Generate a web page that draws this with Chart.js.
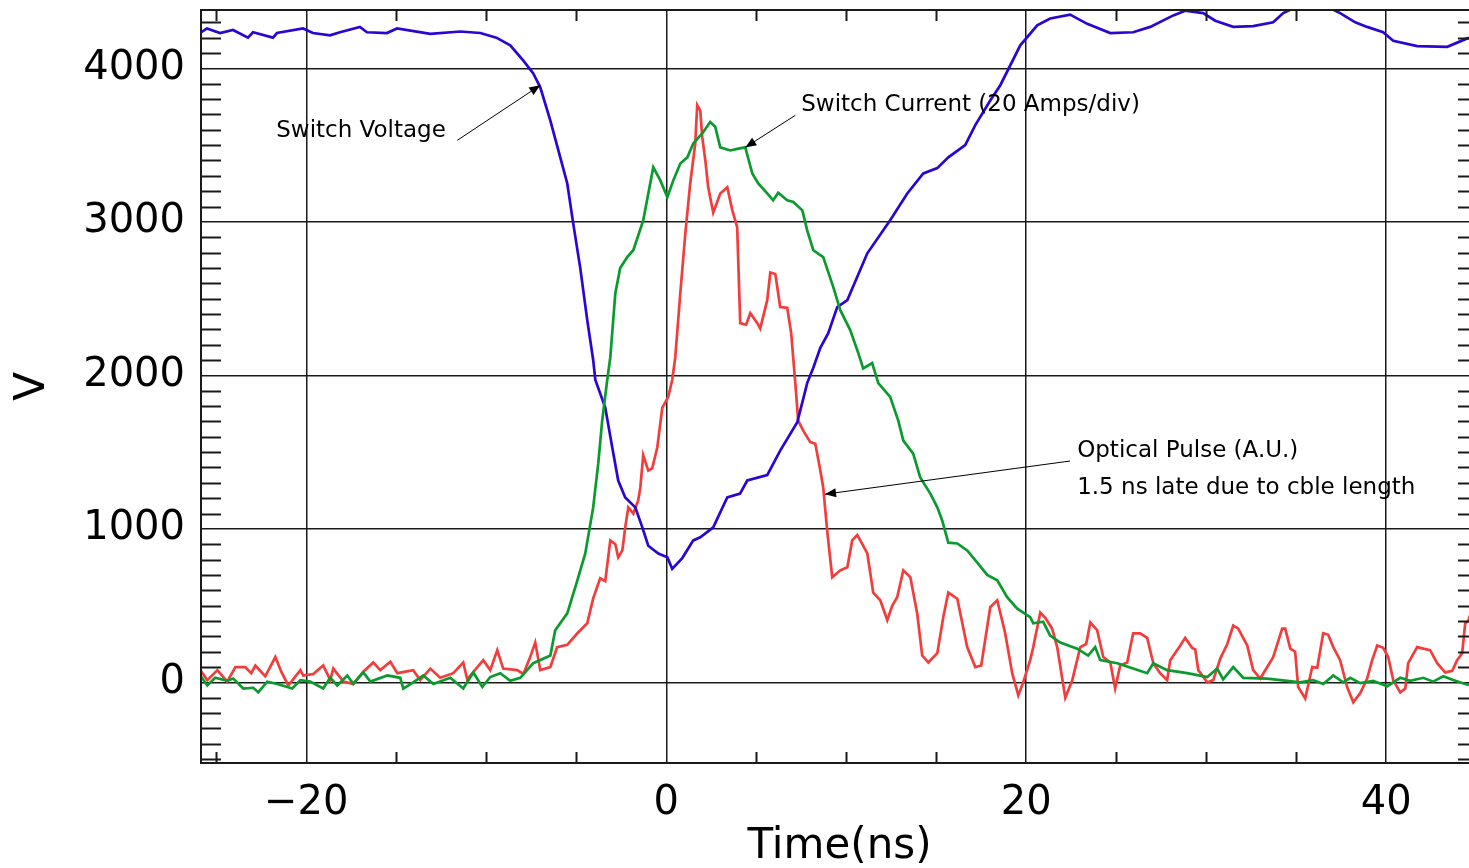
<!DOCTYPE html>
<html>
<head>
<meta charset="utf-8">
<script src="https://cdn.jsdelivr.net/npm/chart.js@4.4.0/dist/chart.umd.min.js"></script>
<style>
    html, body { margin: 0; padding: 0; overflow: hidden; background: #fff; }
    #wrap { width: 1480px; height: 868px; }
    canvas { display: block; }
</style>
</head>
<body>
<div id="wrap"><canvas id="scope" width="1480" height="868"></canvas></div>
<script>
// time axis in ns, values in V (current and optical traces are plotted on the same V scale)
const voltTime = [
    -25.85,-25.52,-24.79,-24.07,-23.24,-22.96,-21.85,-21.63,-20.18,-19.63,
    -18.68,-18.13,-17.02,-16.63,-15.52,-14.96,-13.11,
    -11.44,-10.33,-9.44,-8.67,-7.94,-7.39,-7.0,-6.44,-5.89,-5.5,
    -5.17,-4.78,-4.39,-4.06,-3.94,-3.39,-3.0,-2.67,-2.28,-1.72,
    -1.33,-1.0,-0.44,0.06,0.33,0.89,1.5,1.89,2.61,3.39,
    4.1,4.5,5.61,6.33,7.28,7.83,8.17,8.56,9.0,9.5,
    10.06,11.17,12.44,13.39,14.28,15.06,15.67,16.61,17.17,18.0,
    18.56,19.67,20.61,21.33,22.44,23.39,24.67,25.94,26.89,28.17,
    28.83,29.83,30.5,31.5,32.61,33.72,34.28,35.0,36.39,37.44,
    38.28,38.94,39.83,40.39,41.72,43.39,44.5,45.1
];
const switchVoltage = [
    4235,4260,4230,4250,4200,4235,4200,4230,4260,4230,
    4215,4235,4270,4235,4230,4260,4225,
    4240,4230,4200,4150,4050,3967,3876,3660,3420,3250,
    2990,2700,2360,2100,1970,1790,1530,1315,1205,1140,
    1010,890,840,815,740,810,925,945,1010,1205,
    1230,1315,1350,1510,1695,1950,2050,2180,2275,2445,
    2490,2795,3010,3185,3315,3350,3420,3500,3630,3790,
    3890,4150,4280,4325,4350,4290,4230,4235,4270,4345,
    4375,4360,4310,4270,4275,4300,4360,4400,4420,4360,
    4300,4270,4235,4180,4145,4140,4195,4210
];

const currTime = [
    -25.89,-25.5,-25.06,-24.39,-24.06,-23.5,-22.94,-22.67,-22.17,-21.61,
    -20.78,-20.33,-19.78,-19.06,-18.67,-18.28,-17.72,-17.39,-16.83,-16.44,
    -15.5,-14.78,-14.61,-14.06,-13.5,-12.94,-12.0,-11.28,-10.72,-10.22,
    -9.78,-9.22,-8.67,-8.11,-7.39,-6.44,-6.17,-5.5,-4.94,-4.5,
    -4.06,-3.78,-3.56,-3.28,-3.11,-2.83,-2.56,-2.17,-1.83,-1.28,
    -0.72,-0.33,0.06,0.39,0.78,1.17,1.5,2.06,2.44,2.72,
    3.0,3.56,3.94,4.39,4.78,5.11,5.61,5.94,6.22,6.72,
    7.06,7.56,7.83,8.17,8.72,9.28,9.67,10.22,10.67,10.94,
    11.44,11.78,12.44,12.89,13.17,13.72,14.11,14.67,15.06,15.33,
    15.67,16.17,16.72,17.28,17.83,18.39,18.94,19.5,20.22,20.39,
    20.94,21.33,21.89,22.83,23.44,23.83,24.11,25.06,25.94,26.72,
    27.06,27.83,28.94,30.06,30.61,30.94,31.5,32.06,33.39,34.5,
    35.22,35.94,36.5,37.06,37.61,38.0,38.56,39.28,40.06,40.78,
    41.33,42.06,42.61,43.17,43.72,44.5,45.1
];
const switchCurrent = [
    45,-20,30,10,25,-40,-35,-65,5,-10,
    -40,15,5,-40,30,-20,45,-10,65,5,
    45,30,-40,0,45,-10,30,-40,65,-30,
    35,60,10,30,125,175,340,450,665,840,
    1140,1425,1705,1970,2117,2535,2700,2770,2815,3010,
    3355,3270,3160,3270,3380,3420,3510,3585,3650,3620,
    3485,3465,3475,3485,3315,3250,3185,3140,3190,3140,
    3130,3075,2945,2815,2770,2575,2425,2295,2145,2045,
    2080,1950,1860,1705,1575,1490,1335,1230,1140,1055,
    910,905,860,780,700,665,555,480,425,385,
    395,305,260,220,175,230,145,125,90,60,
    125,80,60,35,90,20,100,30,25,10,
    0,15,-10,45,0,30,-5,10,-25,30,
    10,30,5,40,15,-15,0
];

const opticTime = [
    -25.89,-25.5,-24.94,-24.39,-23.94,-23.39,-23.06,-22.83,-22.28,-21.72,
    -21.39,-21.0,-20.33,-20.17,-19.61,-19.06,-18.67,-18.5,-17.94,-17.39,
    -16.83,-16.28,-15.89,-15.33,-14.94,-14.06,-13.67,-13.11,-12.56,-11.83,
    -11.28,-11.06,-10.17,-9.78,-9.39,-9.06,-8.28,-7.94,-7.56,-7.28,
    -7.0,-6.44,-6.06,-5.5,-4.94,-4.39,-4.06,-3.67,-3.39,-3.11,
    -2.83,-2.67,-2.44,-2.28,-2.11,-1.83,-1.56,-1.44,-1.28,-1.0,
    -0.78,-0.5,-0.22,0.11,0.33,0.5,0.78,1.06,1.33,1.61,
    1.72,1.89,2.0,2.17,2.33,2.61,3.0,3.39,3.67,3.94,
    4.11,4.44,4.67,5.06,5.22,5.61,5.78,6.06,6.33,6.72,
    6.94,7.17,7.33,7.61,8.0,8.28,8.56,8.72,8.94,9.22,
    9.67,10.06,10.33,10.61,10.78,11.17,11.5,11.89,12.28,12.56,
    12.83,13.17,13.56,13.94,14.22,14.56,15.06,15.39,15.67,16.17,
    16.72,17.17,17.5,18.0,18.39,18.83,19.22,19.56,19.83,20.22,
    20.39,20.78,21.06,21.44,21.72,22.17,22.56,23.0,23.33,23.56,
    23.94,24.28,24.67,24.94,25.22,25.61,25.94,26.33,26.72,27.06,
    27.44,27.83,28.0,28.56,28.83,29.22,29.39,29.56,30.06,30.39,
    30.78,31.17,31.5,31.78,32.28,32.61,33.0,33.39,33.72,34.22,
    34.39,34.67,34.94,35.11,35.5,35.89,36.17,36.5,36.78,37.06,
    37.44,37.83,38.17,38.56,38.94,39.22,39.5,39.83,40.11,40.39,
    40.78,41.06,41.22,41.72,42.06,42.44,42.83,43.28,43.67,43.94,
    44.22,44.39,44.56,45.1
];
const opticalPulse = [
    80,15,80,5,100,100,60,110,40,165,
    70,-20,80,45,55,110,15,90,5,-10,
    70,130,80,135,60,80,15,90,30,60,
    130,20,145,80,210,90,80,55,165,260,
    80,100,230,245,320,385,547,678,660,925,
    900,815,860,1010,1140,1100,1185,1270,1480,1380,
    1395,1530,1790,1860,1970,2117,2535,2925,3250,3510,
    3760,3725,3550,3400,3225,3060,3185,3225,3075,2965,
    2340,2330,2405,2340,2305,2490,2670,2660,2445,2440,
    2275,1950,1705,1640,1565,1555,1380,1270,990,685,
    730,750,925,960,925,840,585,535,405,500,
    555,730,685,450,175,130,190,425,585,545,
    230,100,110,490,535,320,60,-85,0,145,
    230,455,420,350,230,-100,15,230,250,390,
    340,165,130,-40,110,130,320,320,290,125,
    60,15,145,240,290,225,215,80,0,15,
    155,250,370,350,240,80,25,100,165,350,
    350,220,200,-30,-105,100,95,320,310,230,
    145,-30,-130,-70,25,145,240,225,165,15,
    -65,-40,125,230,220,210,125,65,75,145,
    190,385,400,600
];

const xTickValues = [-20, 0, 20, 40];
const yTickValues = [0, 1000, 2000, 3000, 4000];

const notes = [
    { lines: ['Switch Voltage'], at: [-21.67, 3590], from: [-11.61, 3531], to: [-7.0, 3890] },
    { lines: ['Switch Current (20 Amps/div)'], at: [7.5, 3760], from: [7.17, 3694], to: [4.39, 3485] },
    { lines: ['Optical Pulse (A.U.)', '1.5 ns late due to cble length'], at: [22.83, 1505], from: [22.43, 1442], to: [8.82, 1226] }
];

function toPoints(ts, vs) {
    return ts.map((t, i) => ({ x: t, y: vs[i] }));
}

const FONT = 'DejaVu Sans';

// scope-style minor ticks, frame and arrow labels
const scopeDecor = {
    id: 'scopeDecor',
    afterDatasetsDraw(chart) {
        const ctx = chart.ctx;
        const a = chart.chartArea;
        const xs = chart.scales.x;
        const ys = chart.scales.y;
        ctx.save();
        ctx.strokeStyle = '#1a1a1a';
        ctx.lineWidth = 2;
        ctx.beginPath();
        for (let v = -500; v <= 4300; v += 100) {
            if (v % 1000 === 0) continue;
            const py = Math.round(ys.getPixelForValue(v)) + 0.5;
            ctx.moveTo(a.left, py); ctx.lineTo(a.left + 20, py);
            ctx.moveTo(a.right - 20, py); ctx.lineTo(a.right, py);
        }
        for (let t = -25; t <= 45; t += 5) {
            if (t % 20 === 0) continue;
            const px = Math.round(xs.getPixelForValue(t)) + 0.5;
            ctx.moveTo(px, a.bottom); ctx.lineTo(px, a.bottom - 11);
            ctx.moveTo(px, a.top); ctx.lineTo(px, a.top + 11);
        }
        ctx.stroke();
        ctx.strokeRect(a.left, a.top, a.right - a.left, a.bottom - a.top);
        ctx.restore();
    },
    afterDraw(chart) {
        const ctx = chart.ctx;
        const xs = chart.scales.x;
        const ys = chart.scales.y;
        ctx.save();
        ctx.fillStyle = '#000';
        ctx.strokeStyle = '#000';
        ctx.font = '23px "' + FONT + '"';
        ctx.textBaseline = 'middle';
        ctx.textAlign = 'left';
        notes.forEach(n => {
            const tx = xs.getPixelForValue(n.at[0]);
            const ty = ys.getPixelForValue(n.at[1]);
            n.lines.forEach((line, i) => ctx.fillText(line, tx, ty + i * 37));

            const x0 = xs.getPixelForValue(n.from[0]), y0 = ys.getPixelForValue(n.from[1]);
            const x1 = xs.getPixelForValue(n.to[0]), y1 = ys.getPixelForValue(n.to[1]);
            ctx.lineWidth = 1;
            ctx.beginPath();
            ctx.moveTo(x0, y0);
            ctx.lineTo(x1, y1);
            ctx.stroke();
            const ang = Math.atan2(y1 - y0, x1 - x0);
            const len = 11, half = 4.5;
            ctx.beginPath();
            ctx.moveTo(x1, y1);
            ctx.lineTo(x1 - len * Math.cos(ang) + half * Math.sin(ang), y1 - len * Math.sin(ang) - half * Math.cos(ang));
            ctx.lineTo(x1 - len * Math.cos(ang) - half * Math.sin(ang), y1 - len * Math.sin(ang) + half * Math.cos(ang));
            ctx.closePath();
            ctx.fill();
        });
        ctx.restore();
    }
};

const ctx = document.getElementById('scope').getContext('2d');

new Chart(ctx, {
    type: 'line',
    data: {
        datasets: [
            {
                label: 'Switch Current',
                data: toPoints(currTime, switchCurrent),
                borderColor: '#0b9a2e',
                borderWidth: 2.7,
                order: 1
            },
            {
                label: 'Switch Voltage',
                data: toPoints(voltTime, switchVoltage),
                borderColor: '#2c05d2',
                borderWidth: 2.7,
                order: 2
            },
            {
                label: 'Optical Pulse',
                data: toPoints(opticTime, opticalPulse),
                borderColor: '#f23d3d',
                borderWidth: 2.7,
                order: 3
            }
        ]
    },
    options: {
        responsive: false,
        animation: false,
        elements: {
            point: { radius: 0 },
            line: { tension: 0, fill: false }
        },
        layout: {
            padding: { top: 10, right: 2, left: 0, bottom: 0 }
        },
        plugins: {
            legend: { display: false },
            tooltip: { enabled: false }
        },
        scales: {
            x: {
                type: 'linear',
                min: -25.85,
                max: 45.1,
                afterBuildTicks: s => { s.ticks = xTickValues.map(v => ({ value: v })); },
                afterFit: s => { s.height = 105; s.paddingLeft = 0; s.paddingRight = 0; },
                grid: { color: '#1a1a1a', lineWidth: 1.5, drawTicks: false },
                border: { display: false },
                ticks: {
                    padding: 17,
                    color: '#000',
                    font: { family: FONT, size: 40 },
                    maxRotation: 0,
                    autoSkip: false,
                    callback: v => String(v).replace('-', '\u2212')
                },
                title: {
                    display: true,
                    text: 'Time(ns)',
                    color: '#000',
                    font: { family: FONT, size: 42, lineHeight: 1.0 },
                    padding: { top: 0, bottom: 0 }
                }
            },
            y: {
                min: -525,
                max: 4380,
                afterBuildTicks: s => { s.ticks = yTickValues.map(v => ({ value: v })); },
                afterFit: s => { s.width = 201; s.paddingTop = 0; s.paddingBottom = 0; },
                grid: { color: '#1a1a1a', lineWidth: 1.5, drawTicks: false },
                border: { display: false },
                ticks: {
                    padding: 16,
                    color: '#000',
                    font: { family: FONT, size: 40 },
                    autoSkip: false,
                    callback: v => String(v)
                },
                title: {
                    display: true,
                    text: 'V',
                    color: '#000',
                    font: { family: FONT, size: 42, lineHeight: 1.0 },
                    padding: { top: 12, bottom: 0 }
                }
            }
        }
    },
    plugins: [scopeDecor]
});
</script>
</body>
</html>
